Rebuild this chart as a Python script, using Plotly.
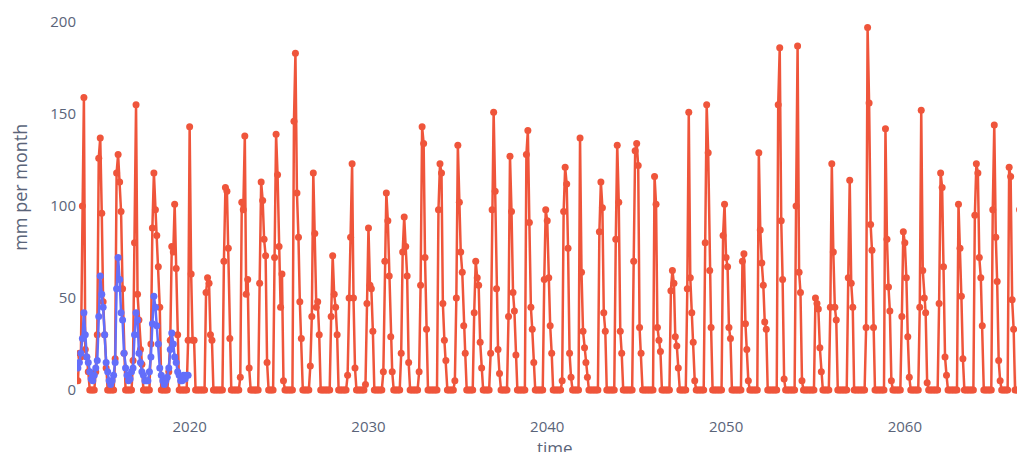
import pandas as pd
import plotly.graph_objects as go

# Modelled precipitation (mm per month), monthly from 2013-10
model_start = "2013-10-01"
model_2013 = [5, 20, 18]
model_years = {
    2014: [100, 159, 22, 18, 10, 0, 0, 0, 0, 10, 30, 126],
    2015: [137, 96, 48, 30, 12, 0, 0, 0, 0, 0, 17, 118],
    2016: [128, 113, 97, 55, 20, 0, 0, 0, 0, 0, 16, 80],
    2017: [155, 52, 38, 22, 14, 0, 0, 0, 0, 0, 25, 88],
    2018: [118, 98, 84, 67, 45, 0, 0, 0, 0, 0, 10, 27],
    2019: [78, 75, 101, 66, 30, 0, 0, 0, 0, 0, 0, 27],
    2020: [143, 63, 27, 27, 0, 0, 0, 0, 0, 0, 0, 53],
    2021: [61, 58, 30, 27, 0, 0, 0, 0, 0, 0, 0, 70],
    2022: [110, 108, 77, 28, 0, 0, 0, 0, 0, 0, 7, 102],
    2023: [98, 138, 52, 60, 12, 0, 0, 0, 0, 0, 0, 58],
    2024: [113, 103, 82, 73, 15, 0, 0, 0, 0, 72, 139, 117],
    2025: [78, 45, 63, 5, 0, 0, 0, 0, 0, 0, 146, 183],
    2026: [107, 83, 48, 28, 0, 0, 0, 0, 0, 13, 40, 118],
    2027: [85, 45, 48, 30, 0, 0, 0, 0, 0, 0, 0, 40],
    2028: [73, 52, 45, 30, 0, 0, 0, 0, 0, 0, 8, 50],
    2029: [83, 123, 50, 12, 0, 0, 0, 0, 0, 0, 3, 47],
    2030: [88, 57, 55, 32, 0, 0, 0, 0, 0, 0, 10, 70],
    2031: [107, 92, 62, 29, 10, 0, 0, 0, 0, 0, 20, 75],
    2032: [94, 78, 62, 15, 0, 0, 0, 0, 0, 0, 10, 57],
    2033: [143, 134, 72, 33, 0, 0, 0, 0, 0, 0, 0, 98],
    2034: [123, 118, 47, 27, 16, 0, 0, 0, 0, 0, 5, 50],
    2035: [133, 102, 75, 64, 35, 20, 0, 0, 0, 0, 0, 42],
    2036: [70, 61, 57, 26, 12, 0, 0, 0, 0, 0, 20, 98],
    2037: [151, 108, 55, 22, 9, 0, 0, 0, 0, 0, 40, 127],
    2038: [97, 53, 43, 19, 0, 0, 0, 0, 0, 0, 128, 141],
    2039: [91, 45, 33, 15, 0, 0, 0, 0, 0, 0, 60, 98],
    2040: [92, 61, 35, 20, 0, 0, 0, 0, 0, 0, 5, 97],
    2041: [121, 112, 77, 20, 7, 0, 0, 0, 0, 0, 137, 64],
    2042: [32, 23, 15, 7, 0, 0, 0, 0, 0, 0, 0, 86],
    2043: [113, 99, 42, 32, 0, 0, 0, 0, 0, 0, 82, 133],
    2044: [102, 32, 20, 0, 0, 0, 0, 0, 0, 0, 70, 130],
    2045: [134, 122, 34, 20, 0, 0, 0, 0, 0, 0, 0, 0],
    2046: [116, 101, 34, 27, 21, 0, 0, 0, 0, 0, 0, 54],
    2047: [65, 58, 29, 24, 12, 0, 0, 0, 0, 0, 55, 151],
    2048: [61, 42, 26, 5, 0, 0, 0, 0, 0, 0, 80, 155],
    2049: [129, 65, 34, 0, 0, 0, 0, 0, 0, 0, 84, 101],
    2050: [72, 67, 34, 28, 0, 0, 0, 0, 0, 0, 0, 70],
    2051: [74, 36, 22, 5, 0, 0, 0, 0, 0, 0, 129, 87],
    2052: [69, 57, 37, 33, 0, 0, 0, 0, 0, 0, 0, 155],
    2053: [186, 92, 60, 6, 0, 0, 0, 0, 0, 0, 0, 100],
    2054: [187, 64, 53, 5, 0, 0, 0, 0, 0, 0, 0, 0],
    2055: [50, 47, 44, 23, 10, 0, 0, 0, 0, 0, 45, 123],
    2056: [75, 45, 38, 0, 0, 0, 0, 0, 0, 0, 61, 114],
    2057: [58, 45, 0, 0, 0, 0, 0, 0, 0, 0, 34, 197],
    2058: [156, 90, 76, 34, 0, 0, 0, 0, 0, 0, 0, 142],
    2059: [82, 56, 43, 5, 0, 0, 0, 0, 0, 0, 40, 86],
    2060: [80, 61, 29, 7, 0, 0, 0, 0, 0, 0, 45, 152],
    2061: [65, 50, 42, 4, 0, 0, 0, 0, 0, 0, 0, 47],
    2062: [118, 110, 67, 18, 8, 0, 0, 0, 0, 0, 0, 0],
    2063: [101, 77, 51, 17, 0, 0, 0, 0, 0, 0, 0, 95],
    2064: [123, 118, 72, 61, 35, 0, 0, 0, 0, 0, 0, 98],
    2065: [144, 83, 59, 16, 5, 0, 0, 0, 0, 0, 121, 116],
    2066: [49, 33, 0, 0, 0, 98, 61, 110, 60, 20, 0, 0],
}

# Observed precipitation (mm per month), monthly from 2013-10
obs_start = "2013-10-01"
obs_2013 = [12, 15, 20]
obs_years = {
    2014: [28, 42, 30, 18, 15, 10, 6, 5, 8, 12, 16, 40],
    2015: [62, 52, 45, 30, 15, 10, 5, 3, 5, 8, 15, 55],
    2016: [72, 60, 42, 38, 20, 12, 8, 5, 6, 10, 12, 30],
    2017: [42, 38, 20, 15, 10, 8, 5, 5, 5, 10, 18, 36],
    2018: [51, 45, 35, 25, 12, 8, 5, 3, 5, 7, 12, 22],
    2019: [31, 25, 18, 15, 10, 8, 5, 5, 8, 6, 8, 8],
}

model_vals = list(model_2013)
for y in sorted(model_years):
    model_vals += model_years[y]
obs_vals = list(obs_2013)
for y in sorted(obs_years):
    obs_vals += obs_years[y]

model_t = pd.date_range(model_start, periods=len(model_vals), freq="MS")
obs_t = pd.date_range(obs_start, periods=len(obs_vals), freq="MS")

RED = "#EF553B"
BLUE = "#636EFA"
TXT = "#5a6479"

fig = go.Figure()
fig.add_trace(go.Scatter(x=model_t, y=model_vals, mode="lines+markers",
                         name="model", line=dict(color=RED, width=2.5),
                         marker=dict(color=RED, size=7)))
fig.add_trace(go.Scatter(x=obs_t, y=obs_vals, mode="lines+markers",
                         name="observed", line=dict(color=BLUE, width=2.5),
                         marker=dict(color=BLUE, size=7)))

tick_font = dict(family="Open Sans, Arial, sans-serif", size=15, color=TXT)
fig.update_layout(
    template="plotly_white",
    width=1025, height=452,
    margin=dict(l=69, r=0, t=2, b=44),
    showlegend=False,
    plot_bgcolor="white", paper_bgcolor="white",
    font=dict(family="Open Sans, Arial, sans-serif", size=15, color=TXT),
)
fig.update_xaxes(range=["2013-09-13", "2067-03-03"], showgrid=False, zeroline=False,
                 tickfont=tick_font, automargin=False, dtick="M120")
fig.update_yaxes(range=[-14.1, 206.5], showgrid=False, zeroline=False,
                 tickfont=tick_font, tickvals=[0, 50, 100, 150, 200], automargin=False)
# axis titles
fig.add_annotation(text="mm per month", textangle=-90, xref="paper", yref="paper",
                   x=-0.0596, y=0.562, xanchor="center", yanchor="middle",
                   showarrow=False, font=dict(size=18, color=TXT))
fig.add_annotation(text="time", xref="paper", yref="paper",
                   x=0.5, y=-0.0788, xanchor="center", yanchor="middle",
                   showarrow=False, font=dict(size=17, color=TXT))

fig.write_html("out.html")
